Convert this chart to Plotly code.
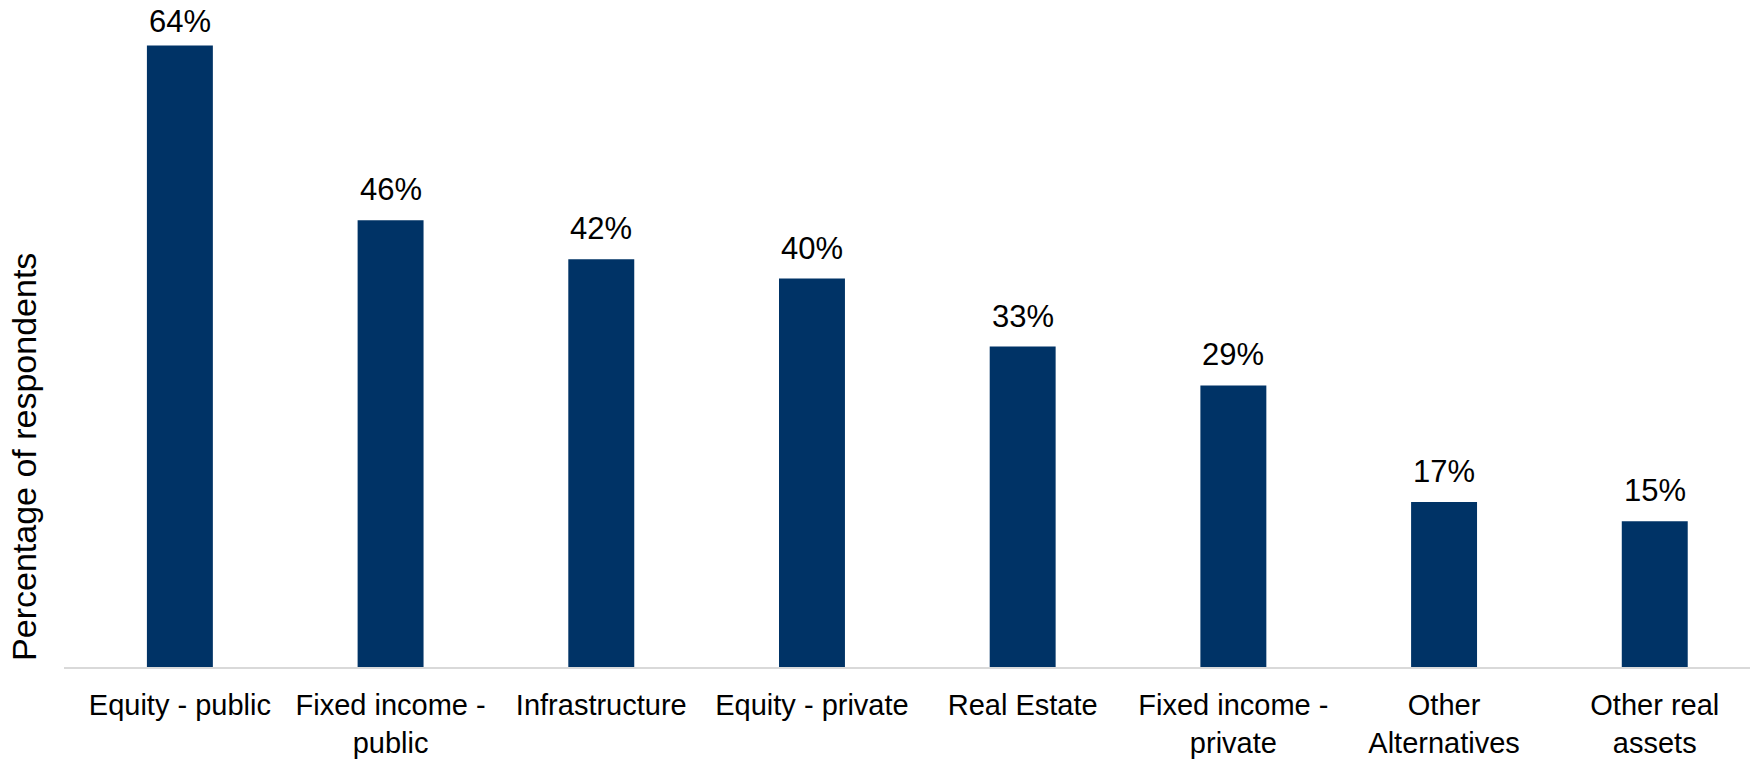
import plotly.graph_objects as go

categories = ["Equity - public", "Fixed income -<br>public", "Infrastructure", "Equity - private",
              "Real Estate", "Fixed income -<br>private", "Other<br>Alternatives", "Other real<br>assets"]
values = [64, 46, 42, 40, 33, 29, 17, 15]
value_labels = [f"{v}%" for v in values]

BAR_COLOR = "#003366"
FONT = "Liberation Sans, Arial, sans-serif"

fig = go.Figure()
fig.add_trace(go.Bar(
    x=list(range(len(categories))), y=values,
    marker=dict(color=BAR_COLOR, line=dict(width=0)),
    width=0.313,
    hoverinfo="skip",
))

top_value = max(values)
for i, (v, lab) in enumerate(zip(values, value_labels)):
    # the tallest label sits a few pixels lower so it stays inside the page
    shift = 5 if v == top_value else 11
    fig.add_annotation(x=i, y=v, xref="x", yref="y", text=lab, showarrow=False,
                       yanchor="bottom", yshift=shift,
                       font=dict(family=FONT, size=31, color="#000000"))

fig.add_annotation(x=-0.0235, y=0.325, xref="paper", yref="paper", text="Percentage of respondents",
                   showarrow=False, textangle=-90, xanchor="center", yanchor="middle",
                   font=dict(family=FONT, size=34, color="#000000"))

fig.update_layout(
    width=1750, height=756,
    margin=dict(l=56, r=0, t=12, b=97),
    paper_bgcolor="white", plot_bgcolor="white",
    showlegend=False,
    xaxis=dict(
        tickmode="array", tickvals=list(range(len(categories))), ticktext=categories,
        range=[-0.55, 7.49], showgrid=False, zeroline=False,
        showline=True, linecolor="#D9D9D9", linewidth=2,
        ticks="", tickfont=dict(family=FONT, size=29, color="#000000"),
        ticklabelstandoff=11,
    ),
    yaxis=dict(range=[0, 66.63], showgrid=False, zeroline=False, showticklabels=False,
               showline=False, ticks=""),
)

fig.write_html("out.html")
